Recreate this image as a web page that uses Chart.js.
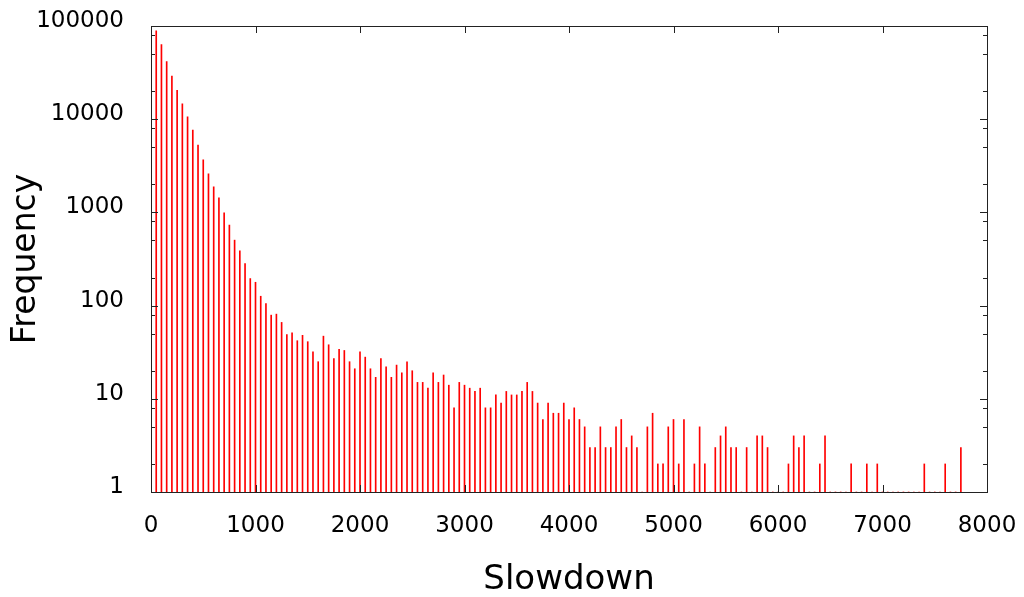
<!DOCTYPE html>
<html>
<head>
<meta charset="utf-8">
<title>Slowdown histogram</title>
<script src="https://cdn.jsdelivr.net/npm/chart.js@4.4.1/dist/chart.umd.min.js"></script>
<style>
  html, body { margin: 0; padding: 0; background: #fff; }
  canvas { display: block; }
</style>
</head>
<body>
<canvas id="histChart" width="1024" height="597"></canvas>
<script>
// Bin positions (slowdown) and counts
const slowdown = [
  50, 100, 150, 200, 250, 300, 350, 400, 450, 500, 550, 600, 650, 700, 750, 800, 850, 900, 950, 1000,
  1050, 1100, 1150, 1200, 1250, 1300, 1350, 1400, 1450, 1500, 1550, 1600, 1650, 1700, 1750, 1800, 1850, 1900, 1950, 2000,
  2050, 2100, 2150, 2200, 2250, 2300, 2350, 2400, 2450, 2500, 2550, 2600, 2650, 2700, 2750, 2800, 2850, 2900, 2950, 3000,
  3050, 3100, 3150, 3200, 3250, 3300, 3350, 3400, 3450, 3500, 3550, 3600, 3650, 3700, 3750, 3800, 3850, 3900, 3950, 4000,
  4050, 4100, 4150, 4200, 4250, 4300, 4350, 4400, 4450, 4500, 4550, 4600, 4650, 4700, 4750, 4800, 4850, 4900, 4950, 5000,
  5050, 5100, 5150, 5200, 5250, 5300, 5350, 5400, 5450, 5500, 5550, 5600, 5650, 5700, 5750, 5800, 5850, 5900, 5950, 6000,
  6050, 6100, 6150, 6200, 6250, 6300, 6350, 6400, 6450, 6500, 6550, 6600, 6650, 6700, 6750, 6800, 6850, 6900, 6950, 7000,
  7050, 7100, 7150, 7200, 7250, 7300, 7350, 7400, 7450, 7500, 7550, 7600, 7650, 7700, 7750
];
const frequency = [
  89000, 63000, 41400, 29000, 20400, 14600, 10600, 7640, 5270, 3670, 2600, 1880, 1435, 990, 730, 504, 387, 283, 195, 178,
  126, 105, 79, 81, 66, 49, 51, 42, 48, 41, 32, 25, 47, 38, 27, 34, 33, 25, 21, 32,
  28, 21, 17, 27, 22, 17, 23, 19, 25, 20, 15, 15, 13, 19, 15, 18, 14, 8, 15, 14,
  13, 12, 13, 8, 8, 11, 9, 12, 11, 11, 12, 15, 12, 9, 6, 9, 7, 7, 9, 6,
  8, 6, 5, 3, 3, 5, 3, 3, 5, 6, 3, 4, 3, 1, 5, 7, 2, 2, 5, 6,
  2, 6, 1, 2, 5, 2, 1, 3, 4, 5, 3, 3, 1, 3, 1, 4, 4, 3, 1, 1,
  1, 2, 4, 3, 4, 1, 1, 2, 4, 1, 1, 1, 1, 2, 1, 1, 2, 1, 2, 1,
  1, 1, 1, 1, 1, 1, 1, 2, 1, 1, 1, 2, 1, 1, 3
];
const yTickValues = [1, 10, 100, 1000, 10000, 100000];
const yMinorSteps = [2, 5, 8];
const xTickStep = 1000;

const FONT = 'DejaVu Sans';

// Border box and gnuplot-style inward ticks on all four sides
const frameTicks = {
  id: 'frameTicks',
  afterDatasetsDraw(chart) {
    const { ctx, chartArea: a, scales: { x, y } } = chart;
    ctx.save();
    ctx.strokeStyle = '#222';
    ctx.lineWidth = 1;
    ctx.beginPath();
    yTickValues.forEach(v => {
      const p = Math.round(y.getPixelForValue(v)) + 0.5;
      ctx.moveTo(a.left, p); ctx.lineTo(a.left + 7, p);
      ctx.moveTo(a.right, p); ctx.lineTo(a.right - 7, p);
      if (v < 100000) {
        yMinorSteps.forEach(m => {
          const q = Math.round(y.getPixelForValue(v * m)) + 0.5;
          ctx.moveTo(a.left, q); ctx.lineTo(a.left + 4, q);
          ctx.moveTo(a.right, q); ctx.lineTo(a.right - 4, q);
        });
      }
    });
    for (let v = 0; v <= 8000; v += xTickStep) {
      const p = Math.round(x.getPixelForValue(v)) + 0.5;
      ctx.moveTo(p, a.bottom); ctx.lineTo(p, a.bottom - 7);
      ctx.moveTo(p, a.top); ctx.lineTo(p, a.top + 7);
    }
    ctx.stroke();
    ctx.strokeRect(Math.round(a.left) + 0.5, Math.round(a.top) + 0.5,
      Math.round(a.right - a.left), Math.round(a.bottom - a.top));
    ctx.restore();
  }
};

const points = slowdown.map((s, i) => ({ x: s, y: frequency[i] }));

new Chart(document.getElementById('histChart'), {
  type: 'bar',
  data: {
    datasets: [{
      data: points,
      backgroundColor: '#ff0000',
      borderWidth: 0,
      barThickness: 1
    }]
  },
  options: {
    responsive: false,
    animation: false,
    devicePixelRatio: 1,
    layout: { padding: { left: 0, top: 26, right: 37, bottom: 0 } },
    plugins: {
      legend: { display: false },
      tooltip: { enabled: false }
    },
    scales: {
      x: {
        type: 'linear',
        min: 0,
        max: 8000,
        offset: false,
        grid: { display: false, drawTicks: false, offset: false },
        border: { display: false },
        ticks: {
          stepSize: xTickStep,
          padding: 20,
          maxRotation: 0,
          color: '#000',
          font: { family: FONT, size: 23 },
          callback: v => String(v)
        },
        title: {
          display: true,
          text: 'Slowdown',
          color: '#000',
          font: { family: FONT, size: 34, lineHeight: 1 },
          padding: { top: 0, bottom: 0 }
        },
        afterFit: scale => {
          scale.height = 105;
          scale.paddingLeft = 0;
          scale.paddingRight = 0;
        }
      },
      y: {
        type: 'logarithmic',
        min: 1,
        max: 100000,
        grid: { display: false, drawTicks: false },
        border: { display: false },
        afterBuildTicks: scale => {
          scale.ticks = yTickValues.map(v => ({ value: v }));
        },
        ticks: {
          padding: 27,
          labelOffset: -5,
          color: '#000',
          font: { family: FONT, size: 23 },
          callback: v => String(v)
        },
        title: {
          display: true,
          text: 'Frequency',
          color: '#000',
          font: { family: FONT, size: 33, lineHeight: 1 },
          padding: { top: 10, bottom: 0 }
        },
        afterFit: scale => {
          scale.width = 151;
          scale.paddingTop = 0;
          scale.paddingBottom = 0;
        }
      }
    }
  },
  plugins: [frameTicks]
});
</script>
</body>
</html>
